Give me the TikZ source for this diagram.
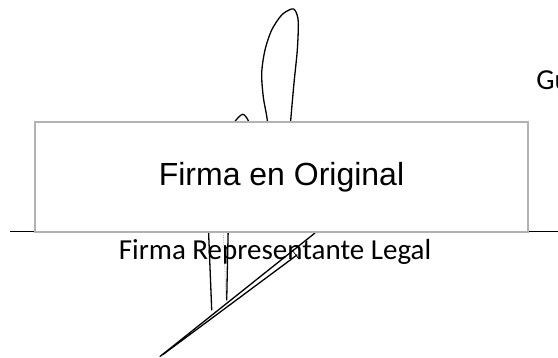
\documentclass[tikz,border=0pt]{standalone}
\usepackage{fontspec}
\setmainfont{Liberation Sans}
\newfontfamily\labelfont{Carlito}

\tikzset{
  % ----- the box laid over the signature
  origbox/.style={
    rectangle, draw=gray!60, line width=2pt, fill=white,
    minimum width=493pt, minimum height=110pt, inner sep=0pt,
    font=\fontsize{32}{37}\selectfont
  },
  % ----- the pen strokes
  stroke/.style = {draw=black, line width=1.3pt, line cap=round, line join=round},
  faint/.style = {draw=gray!70, line width=0.7pt, densely dotted},
  signline/.style = {draw=black, line width=1.4pt},
  caption/.style = {font=\labelfont\fontsize{29}{33}\selectfont, inner sep=0pt}
}

\begin{document}
\begin{tikzpicture}[
                x = 1pt, y = -1pt, % pixel grid, y going down
                semithick % line style
            ]
        \useasboundingbox (0,0) rectangle (558,358);

        % signature line
        \coordinate (lineL) at (10,231.5);
        \coordinate (lineR) at (558,231.5);
        \path[signline] (lineL) -- (lineR);

        % loop above the box
        \draw[stroke] plot[smooth] coordinates {(289,150) (290.7,120.7) (294,83) (297.3,50)
              (298.3,22) (295.5,11) (291.5,9) (281.7,15) (271.7,30) (265,50) (261.7,73)
              (263.3,97) (267.3,120) (270,150)};
        \draw[stroke] plot[smooth] coordinates {(233,130) (235,121.5) (242.7,114.3)
              (248.3,120.7) (250,130)};

        % strokes below the box
        \foreach \xa/\ya/\xb/\yb in {208.3/225/211.7/310, 228.3/225/226.7/300,
                                      160/356.5/315/233, 163/354.5/297/255}{
            \draw[stroke] (\xa,\ya) -- (\xb,\yb);
        }
        \draw[faint] (223.3,232) -- (226,297);
        \draw[stroke, line width=0.7pt] (292,250) -- (299,259);

        % the box
        \node[origbox] (orig) at (281.5,177) {Firma en Original};

        % captions
        \node[caption, anchor=base] (rep) at (275,260) {Firma Representante Legal};
        \node[caption, anchor=base west] (gu) at (536,90) {Gu};
    \end{tikzpicture}
\end{document}
